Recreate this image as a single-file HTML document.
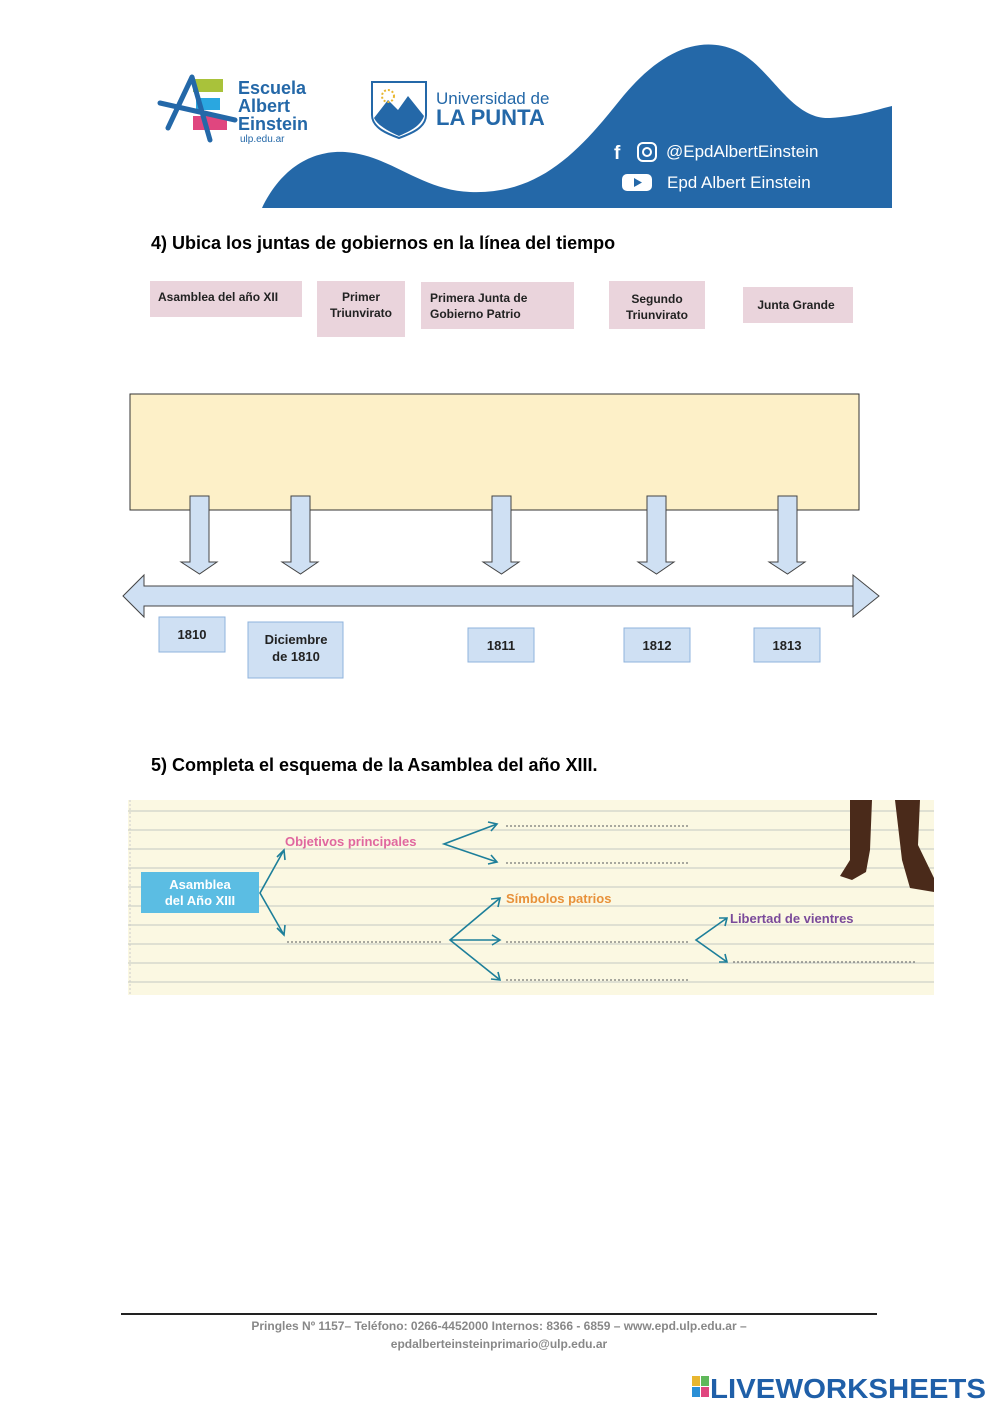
<!DOCTYPE html>
<html><head><meta charset="utf-8"><style>
html,body{margin:0;padding:0;background:#fff;width:999px;height:1412px;overflow:hidden}
svg{display:block}
text{font-family:"Liberation Sans",sans-serif}
</style></head><body>
<svg width="999" height="1412" viewBox="0 0 999 1412" xmlns="http://www.w3.org/2000/svg">
<path d="M262,208 C280,170 310,150 345,152 C390,155 420,190 470,192 C540,195 580,150 620,100 C660,50 700,35 735,50 C770,65 790,120 830,118 C860,116 875,110 892,106 L892,208 Z" fill="#2468a8"/>
<rect x="193" y="79" width="30" height="13" fill="#a9c23a"/>
<rect x="196" y="98" width="24" height="12" fill="#2aa7e0"/>
<rect x="193" y="116" width="34" height="14" fill="#e0467f"/>
<path d="M160,103 L235,120 M192,77 L168,128 M192,77 L210,140" stroke="#2468a8" stroke-width="5" fill="none" stroke-linecap="round"/>
<text x="238" y="94" font-size="18" font-weight="bold" fill="#2468a8">Escuela</text>
<text x="238" y="112" font-size="18" font-weight="bold" fill="#2468a8">Albert</text>
<text x="238" y="130" font-size="18" font-weight="bold" fill="#2468a8">Einstein</text>
<text x="240" y="142" font-size="10" fill="#2468a8">ulp.edu.ar</text>
<path d="M372,82 L426,82 L426,115 C426,128 410,134 399,138 C388,134 372,128 372,115 Z" fill="#fff" stroke="#2468a8" stroke-width="2"/>
<path d="M374,118 L388,100 L398,110 L408,96 L424,116 C420,128 405,133 399,136 C390,132 378,126 374,118Z" fill="#2468a8"/>
<circle cx="388" cy="96" r="6" fill="none" stroke="#e8b630" stroke-width="2" stroke-dasharray="2 2"/>
<text x="436" y="104" font-size="17" fill="#2468a8">Universidad de</text>
<text x="436" y="125" font-size="22" font-weight="bold" fill="#2468a8">LA PUNTA</text>
<text x="614" y="159" font-size="19" font-weight="bold" fill="#fff">f</text>
<rect x="638" y="143" width="18" height="18" rx="5" fill="none" stroke="#fff" stroke-width="2"/>
<circle cx="647" cy="152" r="4" fill="none" stroke="#fff" stroke-width="2"/>
<text x="666" y="157" font-size="17" fill="#fff">@EpdAlbertEinstein</text>
<rect x="622" y="174" width="30" height="17" rx="5" fill="#fff"/>
<path d="M634,178 L642,182.5 L634,187Z" fill="#2468a8"/>
<text x="667" y="188" font-size="17" fill="#fff">Epd Albert Einstein</text>

<text x="151" y="249" font-size="18" font-weight="bold" fill="#000">4)  Ubica los juntas de gobiernos en la línea del tiempo</text>
<g fill="#ead4dc">
<rect x="150" y="281" width="152" height="36"/>
<rect x="317" y="281" width="88" height="56"/>
<rect x="421" y="282" width="153" height="47"/>
<rect x="609" y="281" width="96" height="48"/>
<rect x="743" y="287" width="110" height="36"/>
</g>
<g font-size="12" font-weight="bold" fill="#222">
<text x="158" y="301">Asamblea del año XII</text>
<text x="361" y="301" text-anchor="middle">Primer</text>
<text x="361" y="317" text-anchor="middle">Triunvirato</text>
<text x="430" y="302">Primera Junta de</text>
<text x="430" y="318">Gobierno Patrio</text>
<text x="657" y="303" text-anchor="middle">Segundo</text>
<text x="657" y="319" text-anchor="middle">Triunvirato</text>
<text x="796" y="309" text-anchor="middle">Junta Grande</text>
</g>
<rect x="130" y="394" width="729" height="116" fill="#fdf0c8" stroke="#333" stroke-width="1"/>
<g fill="#cfe0f3" stroke="#444" stroke-width="1">
<path d="M190,496 H209 V562 H217 L199.5,574 L181,562 H190 Z"/>
<path d="M291,496 H310 V562 H318 L300.5,574 L282,562 H291 Z"/>
<path d="M492,496 H511 V562 H519 L501.5,574 L483,562 H492 Z"/>
<path d="M647,496 H666 V562 H674 L656.5,574 L638,562 H647 Z"/>
<path d="M778,496 H797 V562 H805 L787.5,574 L769,562 H778 Z"/>
<path d="M123,596 L144,575 V586 H853 V575 L879,596 L853,617 V606 H144 V617 Z"/>
<line x1="853" y1="586" x2="853" y2="606"/>
</g>
<g fill="#cfe0f3" stroke="#8fb3dd" stroke-width="1">
<rect x="159" y="617" width="66" height="35"/>
<rect x="248" y="622" width="95" height="56"/>
<rect x="468" y="628" width="66" height="34"/>
<rect x="624" y="628" width="66" height="34"/>
<rect x="754" y="628" width="66" height="34"/>
</g>
<g font-size="13" font-weight="bold" fill="#222" text-anchor="middle">
<text x="192" y="639">1810</text>
<text x="296" y="644">Diciembre</text>
<text x="296" y="661">de 1810</text>
<text x="501" y="650">1811</text>
<text x="657" y="650">1812</text>
<text x="787" y="650">1813</text>
</g>

<text x="151" y="771" font-size="18" font-weight="bold" fill="#000">5)  Completa el esquema de la Asamblea del año XIII.</text>
<rect x="128" y="800" width="806" height="195" fill="#fbf8e2"/>
<g stroke="#d6d8cc" stroke-width="1.5">
<line x1="128" y1="811" x2="934" y2="811"/><line x1="128" y1="830" x2="934" y2="830"/>
<line x1="128" y1="849" x2="934" y2="849"/><line x1="128" y1="868" x2="934" y2="868"/>
<line x1="128" y1="887" x2="934" y2="887"/><line x1="128" y1="906" x2="934" y2="906"/>
<line x1="128" y1="925" x2="934" y2="925"/><line x1="128" y1="944" x2="934" y2="944"/>
<line x1="128" y1="963" x2="934" y2="963"/><line x1="128" y1="982" x2="934" y2="982"/>
</g>
<line x1="130" y1="800" x2="130" y2="995" stroke="#ccc" stroke-dasharray="2 2"/>
<path d="M850,800 L872,800 L870,850 L866,872 L852,880 L840,876 L850,860 Z" fill="#4a2a1a"/>
<path d="M895,800 L920,800 L918,845 L934,878 L934,892 L910,888 L902,860 Z" fill="#4a2a1a"/>
<rect x="141" y="872" width="118" height="41" fill="#5bbde3"/>
<text x="200" y="889" font-size="13" font-weight="bold" fill="#fff" text-anchor="middle">Asamblea</text>
<text x="200" y="905" font-size="13" font-weight="bold" fill="#fff" text-anchor="middle">del Año XIII</text>
<text x="285" y="846" font-size="13" font-weight="bold" fill="#e0679f">Objetivos principales</text>
<text x="506" y="903" font-size="13" font-weight="bold" fill="#e8913a">Símbolos patrios</text>
<text x="730" y="923" font-size="13" font-weight="bold" fill="#7a4a9a">Libertad de vientres</text>
<g stroke="#1d7f9a" stroke-width="1.6" fill="none">
<path d="M284,850 L260,893 L284,935"/>
<path d="M277,857 L284,850 L285,860"/><path d="M277,928 L284,935 L285,925"/>
<path d="M497,824 L444,844 L497,862"/>
<path d="M488,822 L497,824 L491,831"/><path d="M488,864 L497,862 L491,855"/>
<path d="M500,898 L450,940 L500,980 M450,940 L500,940"/>
<path d="M491,899 L500,898 L498,907"/><path d="M492,935 L500,940 L492,945"/><path d="M491,979 L500,980 L498,972"/>
<path d="M727,918 L696,940 L727,962"/>
<path d="M719,918 L727,918 L725,926"/><path d="M719,962 L727,962 L725,954"/>
</g>
<g stroke="#777" stroke-width="1.2" stroke-dasharray="2 2">
<line x1="506" y1="826" x2="690" y2="826"/>
<line x1="506" y1="863" x2="690" y2="863"/>
<line x1="287" y1="942" x2="442" y2="942"/>
<line x1="506" y1="942" x2="690" y2="942"/>
<line x1="506" y1="980" x2="690" y2="980"/>
<line x1="733" y1="962" x2="916" y2="962"/>
</g>

<line x1="121" y1="1314" x2="877" y2="1314" stroke="#222" stroke-width="2"/>
<text x="499" y="1330" font-size="12" font-weight="bold" fill="#888" text-anchor="middle">Pringles Nº 1157– Teléfono: 0266-4452000 Internos: 8366 - 6859 – www.epd.ulp.edu.ar –</text>
<text x="499" y="1348" font-size="12" font-weight="bold" fill="#888" text-anchor="middle">epdalberteinsteinprimario@ulp.edu.ar</text>
<rect x="692" y="1376" width="8" height="10" fill="#e8b630"/><rect x="701" y="1376" width="8" height="10" fill="#5fb85a"/>
<rect x="692" y="1387" width="8" height="10" fill="#2a8fd6"/><rect x="701" y="1387" width="8" height="10" fill="#e0467f"/>
<text x="710" y="1398" font-size="28" font-weight="bold" fill="#1f5fa8" textLength="276" lengthAdjust="spacingAndGlyphs">LIVEWORKSHEETS</text>
</svg>
</body></html>
